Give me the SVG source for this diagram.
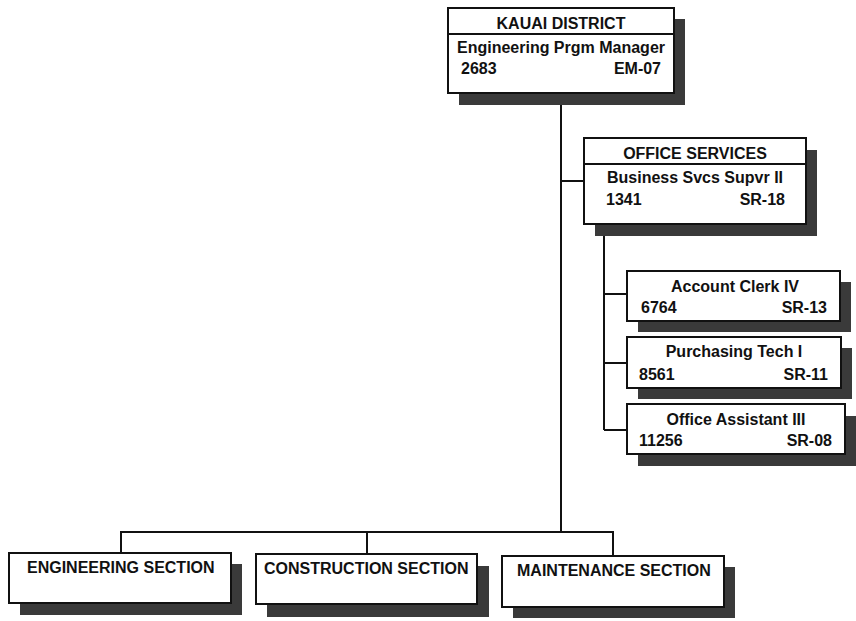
<svg xmlns="http://www.w3.org/2000/svg" width="856" height="621" viewBox="0 0 856 621">
<style>
.box{fill:#fff;stroke:#111;stroke-width:2}
.sh{fill:#3a3a3a}
.ln{stroke:#111;stroke-width:2;fill:none}
text{font-family:"Liberation Sans",Arial,sans-serif;font-weight:bold;font-size:16px;fill:#111}
.c{text-anchor:middle}
.r{text-anchor:end}
</style>
<rect width="856" height="621" fill="#fff"/>
<g id="connectors">
<path class="ln" d="M561 93V532M561 181H584M121 553V532H613V556M367 532V554M604 224V430M604 294H627M604 363H627M604 430H627"/>
</g>
<g id="kauai">
<rect class="sh" x="459" y="19" width="226" height="86"/>
<rect class="box" x="448" y="8" width="226" height="85"/>
<line class="ln" x1="448" y1="34" x2="674" y2="34"/>
<text class="c" x="561" y="29">KAUAI DISTRICT</text>
<text class="c" x="561" y="53">Engineering Prgm Manager</text>
<text x="461" y="74">2683</text>
<text class="r" x="661" y="74">EM-07</text>
</g>
<g id="office-services">
<rect class="sh" x="595" y="150" width="222" height="86"/>
<rect class="box" x="584" y="138" width="222" height="86"/>
<line class="ln" x1="584" y1="164" x2="806" y2="164"/>
<text class="c" x="695" y="159">OFFICE SERVICES</text>
<text class="c" x="695" y="183">Business Svcs Supvr II</text>
<text x="606" y="205">1341</text>
<text class="r" x="785" y="205">SR-18</text>
</g>
<g id="account-clerk">
<rect class="sh" x="638" y="282" width="213" height="50"/>
<rect class="box" x="627" y="271" width="213" height="50"/>
<text class="c" x="735" y="292">Account Clerk IV</text>
<text x="641" y="313">6764</text>
<text class="r" x="827" y="313">SR-13</text>
</g>
<g id="purchasing-tech">
<rect class="sh" x="638" y="348" width="214" height="51"/>
<rect class="box" x="627" y="337" width="214" height="51"/>
<text class="c" x="734" y="357">Purchasing Tech I</text>
<text x="639" y="380">8561</text>
<text class="r" x="828" y="380">SR-11</text>
</g>
<g id="office-assistant">
<rect class="sh" x="638" y="416" width="218" height="50"/>
<rect class="box" x="627" y="404" width="218" height="50"/>
<text class="c" x="736" y="425">Office Assistant III</text>
<text x="639" y="446">11256</text>
<text class="r" x="832" y="446">SR-08</text>
</g>
<g id="engineering">
<rect class="sh" x="20" y="564" width="222" height="51"/>
<rect class="box" x="9" y="553" width="222" height="50"/>
<text x="27" y="573">ENGINEERING SECTION</text>
</g>
<g id="construction">
<rect class="sh" x="267" y="566" width="222" height="51"/>
<rect class="box" x="256" y="554" width="221" height="50"/>
<text x="264" y="574">CONSTRUCTION SECTION</text>
</g>
<g id="maintenance">
<rect class="sh" x="513" y="567" width="222" height="51"/>
<rect class="box" x="502" y="556" width="222" height="51"/>
<text x="517" y="576">MAINTENANCE SECTION</text>
</g>
</svg>
